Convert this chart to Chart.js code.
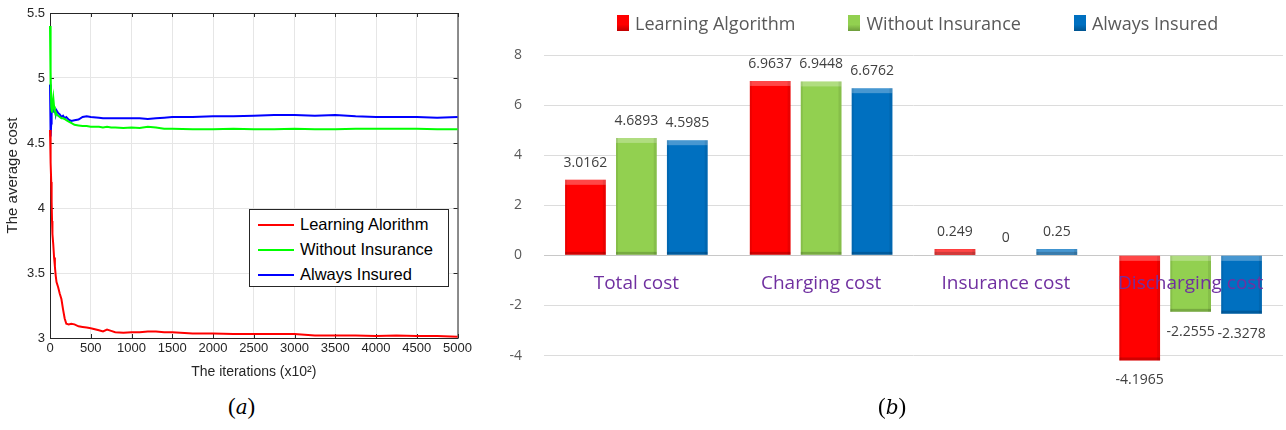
<!DOCTYPE html>
<html>
<head>
<meta charset="utf-8">
<script src="https://cdn.jsdelivr.net/npm/chart.js@4.4.1/dist/chart.umd.min.js"></script>
<style>
  body { margin: 0; background: #fff; width: 1286px; height: 430px; overflow: hidden; position: relative; font-family: "Liberation Sans", Arial, sans-serif; }
  #wrapA { position: absolute; left: 0; top: 0; width: 475px; height: 385px; }
  #wrapB { position: absolute; left: 490px; top: 0; width: 796px; height: 421px; }
  #legendA { position: absolute; left: 249px; top: 209px; width: 198px; height: 76px; border: 1px solid #262626; background: #fff; font-size: 16.5px; color: #000; }
  #legendA .row { position: absolute; left: 8px; height: 24px; line-height: 24px; white-space: nowrap; }
  #legendA .ln { display: inline-block; width: 36px; height: 2px; vertical-align: middle; margin-right: 6px; position: relative; top: -1px; }
  #legendB { position: absolute; left: 617px; top: 11px; font-family: "Open Sans", sans-serif; font-size: 18px; color: #595959; white-space: nowrap; }
  #legendB span.item { display: inline-block; margin-right: 53px; }
  #legendB span.sq { display: inline-block; width: 12px; height: 16px; vertical-align: middle; margin-right: 6px; position: relative; top: -2px; }
  .cap { position: absolute; top: 394px; font-family: "Liberation Serif", serif; font-size: 23px; color: #000; }
  .cap i { font-family: "DejaVu Serif", serif; font-size: 20px; }
</style>
</head>
<body>
<div id="wrapA"><canvas id="chartA"></canvas></div>
<div id="legendA"></div>
<div id="wrapB"><canvas id="chartB"></canvas></div>
<div id="legendB"></div>
<div class="cap" style="left:228px">(<i>a</i>)</div>
<div class="cap" style="left:878px">(<i>b</i>)</div>
<script>
// (a) datos de las curvas
const iters = [0, 5, 10, 15, 20, 25, 30, 40, 50, 60, 70, 80, 100, 120, 140, 160, 180, 200, 230, 260, 300, 350, 400, 450, 500,
  600, 650, 700, 750, 800, 900, 1000, 1100, 1200, 1300, 1400, 1500, 1750, 2000, 2250, 2500, 2750, 3000, 3250, 3500, 3750,
  4000, 4250, 4500, 4750, 5000];
const learning = [4.6, 4.5, 4.35, 4.2, 4.05, 3.9, 3.8, 3.72, 3.62, 3.55, 3.48, 3.43, 3.39, 3.34, 3.3, 3.22, 3.15, 3.11, 3.105, 3.11, 3.105, 3.09, 3.085, 3.08, 3.075,
  3.06, 3.05, 3.065, 3.055, 3.045, 3.04, 3.045, 3.045, 3.05, 3.05, 3.045, 3.045, 3.035, 3.035, 3.03, 3.03, 3.03, 3.03, 3.02, 3.02, 3.02,
  3.015, 3.02, 3.015, 3.015, 3.01];
const withoutIns = [5.4, 4.95, 5.05, 4.78, 4.75, 4.74, 4.8, 4.85, 4.78, 4.75, 4.74, 4.72, 4.71, 4.7, 4.69, 4.69, 4.685, 4.675, 4.665, 4.655, 4.64, 4.635, 4.63, 4.63, 4.625,
  4.625, 4.62, 4.625, 4.62, 4.62, 4.615, 4.62, 4.615, 4.625, 4.62, 4.61, 4.61, 4.605, 4.605, 4.61, 4.605, 4.605, 4.61, 4.605, 4.605, 4.61,
  4.61, 4.61, 4.61, 4.605, 4.605];
const alwaysIns = [4.95, 4.75, 4.55, 4.65, 4.72, 4.77, 4.74, 4.78, 4.74, 4.76, 4.72, 4.75, 4.73, 4.72, 4.7, 4.71, 4.69, 4.7, 4.68, 4.67, 4.675, 4.68, 4.7, 4.705, 4.7,
  4.695, 4.69, 4.69, 4.69, 4.69, 4.69, 4.69, 4.69, 4.685, 4.69, 4.695, 4.7, 4.7, 4.705, 4.705, 4.71, 4.715, 4.715, 4.71, 4.715, 4.705,
  4.7, 4.7, 4.7, 4.695, 4.7];
const lineNames = ['Learning Alorithm', 'Without Insurance', 'Always Insured'];
const lineColors = ['#ff0000', '#00ff00', '#0000ff'];
const xTicksA = [0, 500, 1000, 1500, 2000, 2500, 3000, 3500, 4000, 4500, 5000];
const yTicksA = [3, 3.5, 4, 4.5, 5, 5.5];

// (b) datos de las barras
const categories = ['Total cost', 'Charging cost', 'Insurance cost', 'Discharging cost'];
const barNames = ['Learning Algorithm', 'Without Insurance', 'Always Insured'];
const learningCost = [3.0162, 6.9637, 0.249, -4.1965];
const withoutCost = [4.6893, 6.9448, 0, -2.2555];
const insuredCost = [4.5985, 6.6762, 0.25, -2.3278];
const barColors = ['#ff0000', '#92d050', '#0070c0'];
const yTicksB = [-4, -2, 0, 2, 4, 6, 8];

// Marco y marcas de los ejes estilo MATLAB
const framePlugin = {
  id: 'frame',
  beforeDatasetsDraw(chart) {
    const { ctx, chartArea: a, scales } = chart;
    ctx.save();
    ctx.strokeStyle = '#262626';
    ctx.lineWidth = 1;
    ctx.strokeRect(a.left + 0.5, a.top + 0.5, a.right - a.left, a.bottom - a.top);
    ctx.beginPath();
    xTicksA.forEach(v => {
      const x = Math.round(scales.x.getPixelForValue(v)) + 0.5;
      ctx.moveTo(x, a.bottom); ctx.lineTo(x, a.bottom - 4);
      ctx.moveTo(x, a.top); ctx.lineTo(x, a.top + 4);
    });
    yTicksA.forEach(v => {
      const y = Math.round(scales.y.getPixelForValue(v)) + 0.5;
      ctx.moveTo(a.left, y); ctx.lineTo(a.left + 4, y);
      ctx.moveTo(a.right, y); ctx.lineTo(a.right - 4, y);
    });
    ctx.stroke();
    ctx.restore();
  }
};

const seriesA = [learning, withoutIns, alwaysIns];
new Chart(document.getElementById('chartA'), {
  type: 'line',
  data: {
    datasets: seriesA.map((s, k) => ({
      label: lineNames[k],
      data: iters.map((x, i) => ({ x: x, y: s[i] })),
      borderColor: lineColors[k],
      borderWidth: 2,
      pointRadius: 0,
      tension: 0,
      clip: 3
    }))
  },
  options: {
    responsive: true,
    maintainAspectRatio: false,
    animation: false,
    layout: { padding: { top: 13, right: 14, left: 0, bottom: 0 } },
    plugins: { legend: { display: false }, tooltip: { enabled: false } },
    scales: {
      x: {
        type: 'linear', min: 0, max: 5000,
        afterBuildTicks: s => { s.ticks = xTicksA.map(v => ({ value: v })); },
        afterFit: s => { s.height = 47; },
        ticks: { color: '#262626', font: { family: 'Liberation Sans', size: 13 }, padding: 3, maxRotation: 0, callback: v => String(v) },
        grid: { color: '#e6e6e6', drawTicks: false },
        border: { display: false },
        title: { display: true, text: 'The iterations (x10²)', color: '#262626', font: { family: 'Liberation Sans', size: 14 }, padding: { top: 1 } }
      },
      y: {
        min: 3, max: 5.5,
        afterBuildTicks: s => { s.ticks = yTicksA.map(v => ({ value: v })); },
        afterFit: s => { s.width = 50; },
        ticks: { color: '#262626', font: { family: 'Liberation Sans', size: 13 }, padding: 5, callback: v => String(v) },
        grid: { color: '#e6e6e6', drawTicks: false },
        border: { display: false },
        title: { display: true, text: 'The average cost', color: '#262626', font: { family: 'Liberation Sans', size: 15 }, padding: { bottom: 0 } }
      }
    }
  },
  plugins: [framePlugin]
});

// Leyenda de (a)
const legA = document.getElementById('legendA');
lineNames.forEach((name, k) => {
  const row = document.createElement('div');
  row.className = 'row';
  row.style.top = (2 + k * 25) + 'px';
  row.innerHTML = `<span class="ln" style="background:${lineColors[k]}"></span>${name}`;
  legA.appendChild(row);
});

// Etiquetas, bisel y nombres de categoria para (b)
const barDecor = {
  id: 'barDecor',
  afterDatasetsDraw(chart) {
    const { ctx, scales } = chart;
    ctx.save();
    chart.data.datasets.forEach((ds, di) => {
      const meta = chart.getDatasetMeta(di);
      meta.data.forEach((el, i) => {
        const v = ds.data[i];
        const top = Math.min(el.y, el.base), bot = Math.max(el.y, el.base);
        const left = el.x - el.width / 2;
        if (bot - top > 2) {
          ctx.fillStyle = 'rgba(255,255,255,0.28)';
          ctx.fillRect(left, top, el.width, Math.min(5, bot - top));
          ctx.fillStyle = 'rgba(0,0,0,0.18)';
          ctx.fillRect(left, bot - 3, el.width, 3);
          ctx.fillStyle = 'rgba(0,0,0,0.08)';
          ctx.fillRect(left, top, 2, bot - top);
          ctx.fillRect(left + el.width - 3, top, 3, bot - top);
        }
        ctx.fillStyle = '#404040';
        ctx.font = '14px "Open Sans", sans-serif';
        ctx.textAlign = 'center';
        ctx.textBaseline = 'middle';
        const ty = v >= 0 ? el.y - 17 : el.y + 20;
        ctx.fillText(String(v), el.x, ty);
      });
    });
    ctx.fillStyle = '#7030a0';
    ctx.font = '19px "Open Sans", sans-serif';
    ctx.textAlign = 'center';
    ctx.textBaseline = 'middle';
    categories.forEach((c, i) => {
      ctx.fillText(c, scales.x.getPixelForValue(i), scales.y.getPixelForValue(-1.12));
    });
    ctx.restore();
  }
};

const seriesB = [learningCost, withoutCost, insuredCost];
new Chart(document.getElementById('chartB'), {
  type: 'bar',
  data: {
    labels: categories,
    datasets: seriesB.map((s, k) => ({
      label: barNames[k],
      data: s,
      backgroundColor: barColors[k],
      borderWidth: 0,
      categoryPercentage: 0.827,
      barPercentage: 0.8
    }))
  },
  options: {
    responsive: true,
    maintainAspectRatio: false,
    animation: false,
    layout: { padding: { top: 55, right: 3, left: 0, bottom: 12 } },
    plugins: { legend: { display: false }, tooltip: { enabled: false } },
    scales: {
      x: { display: false },
      y: {
        min: -5.4, max: 8,
        afterBuildTicks: s => { s.ticks = yTicksB.map(v => ({ value: v })); },
        afterFit: s => { s.width = 54; },
        ticks: { color: '#595959', font: { family: 'Open Sans', size: 14 }, padding: 22, callback: v => String(v) },
        grid: { color: c => c.tick && c.tick.value === 0 ? '#c8c8c8' : '#dcdcdc', drawTicks: false },
        border: { display: false }
      }
    }
  },
  plugins: [barDecor]
});

// Leyenda de (b)
const legB = document.getElementById('legendB');
barNames.forEach((name, k) => {
  const it = document.createElement('span');
  it.className = 'item';
  it.innerHTML = `<span class="sq" style="background:linear-gradient(${barColors[k]} 60%, rgba(0,0,0,0.25)), ${barColors[k]};background-color:${barColors[k]}"></span>${name}`;
  legB.appendChild(it);
});
</script>
</body>
</html>
